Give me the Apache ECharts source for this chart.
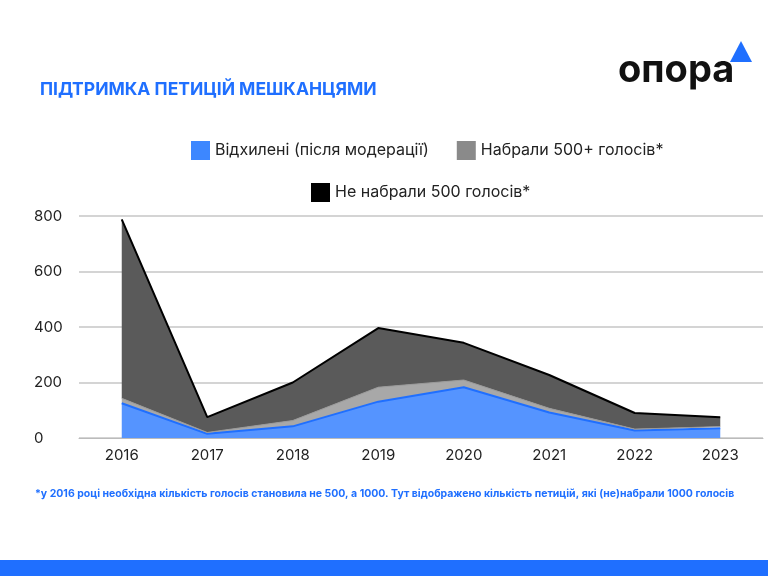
<!DOCTYPE html>
<html style="height: 100%">
<head>
    <meta charset="utf-8">
</head>
<body style="height: 100%; margin: 0; background: #fff">
    <div id="container" style="width: 768px; height: 576px"></div>
    <script src="https://cdn.jsdelivr.net/npm/echarts@6/dist/echarts.min.js"></script>
    <script type="text/javascript">
        var myChart = echarts.init(document.getElementById('container'));
        var years = ['2016', '2017', '2018', '2019', '2020', '2021', '2022', '2023'];
        // values (stacked parts)
        var rejected = [125, 15, 42, 131, 183, 92, 27, 35];
        var over500 = [18, 5, 21, 52, 26, 15, 5, 6];
        var under500 = [645, 55, 137, 213, 134, 120, 58, 34];
        var font = 'Inter, "Noto Sans", sans-serif';

        var option = {
            animation: false,
            textStyle: { fontFamily: font },
            title: {
                text: 'ПІДТРИМКА ПЕТИЦІЙ МЕШКАНЦЯМИ',
                left: 35, top: 76,
                textStyle: { color: '#1f6fff', fontSize: 17.5, fontWeight: 'bold', fontFamily: font }
            },
            legend: [{
                data: ['Відхилені (після модерації)', 'Набрали 500+ голосів*'],
                top: 136, left: 186, itemGap: 28,
                icon: 'rect', itemWidth: 19, itemHeight: 19,
                textStyle: { fontSize: 16, color: '#222' }
            }, {
                data: ['Не набрали 500 голосів*'],
                top: 178, left: 306,
                icon: 'rect', itemWidth: 19, itemHeight: 19,
                textStyle: { fontSize: 16, color: '#222' }
            }],
            grid: { left: 79, right: 5, top: 216, bottom: 138 },
            xAxis: {
                type: 'category', data: years, boundaryGap: true,
                axisTick: { show: false },
                axisLine: { lineStyle: { color: '#bbb' } },
                axisLabel: { fontSize: 15, color: '#222', margin: 10 }
            },
            yAxis: {
                type: 'value', min: 0, max: 800, interval: 200,
                axisLabel: { fontSize: 15, color: '#222', margin: 45, align: 'left' },
                splitLine: { lineStyle: { color: '#d4d4d4', width: 2 } }
            },
            graphic: [
                { type: 'text', left: 618, top: 52, style: { text: 'опора', font: 'bold 38px ' + font, fill: '#111' } },
                { type: 'polygon', shape: { points: [[730, 62], [741, 41], [752, 62]] }, style: { fill: '#1f6fff' } },
                { type: 'text', left: 35, top: 488, style: { text: '*у 2016 році необхідна кількість голосів становила не 500, а 1000. Тут відображено кількість петицій, які (не)набрали 1000 голосів', font: 'bold 10.5px ' + font, fill: '#1f6fff' } },
                { type: 'rect', shape: { x: 0, y: 560, width: 768, height: 16 }, style: { fill: '#1f6fff' } }
            ],
            series: [{
                name: 'Відхилені (після модерації)', type: 'line', stack: 'a', data: rejected,
                symbol: 'none', itemStyle: { color: '#3d87ff' },
                lineStyle: { color: '#1f6fff', width: 2 }, areaStyle: { color: '#5594ff', opacity: 1 }
            }, {
                name: 'Набрали 500+ голосів*', type: 'line', stack: 'a', data: over500,
                symbol: 'none', itemStyle: { color: '#8a8a8a' },
                lineStyle: { color: '#999', width: 1 }, areaStyle: { color: '#a8a8a8', opacity: 1 }
            }, {
                name: 'Не набрали 500 голосів*', type: 'line', stack: 'a', data: under500,
                symbol: 'none', itemStyle: { color: '#000' },
                lineStyle: { color: '#000', width: 2 }, areaStyle: { color: '#5a5a5a', opacity: 1 }
            }]
        };
        myChart.setOption(option);
    </script>
</body>
</html>
